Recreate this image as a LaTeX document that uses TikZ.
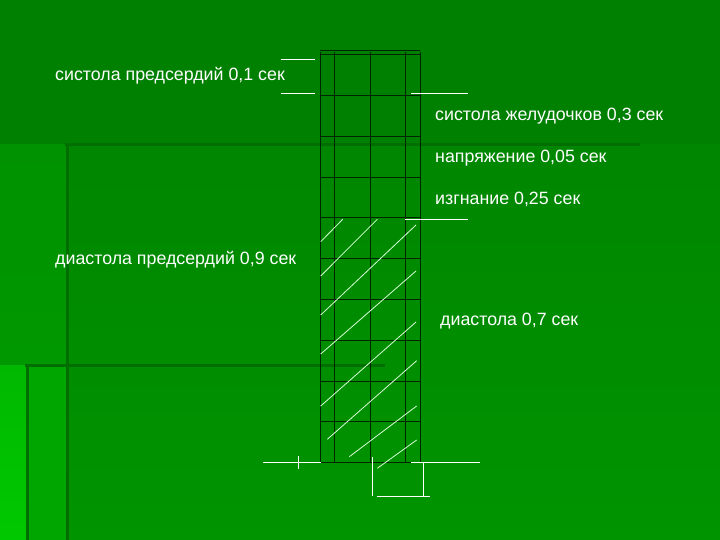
\documentclass[tikz,border=0pt]{standalone}
\usepackage{fontspec}
\setmainfont{Liberation Sans}
\begin{document}
\begin{tikzpicture}[x=1pt,y=-1pt,
  lbl/.style={anchor=base west,inner sep=0pt,text=white,font=\fontsize{17.8}{21}\selectfont},
  wline/.style={draw=white,line width=0.9pt},
  hatch/.style={draw=white!85!green,line width=0.8pt},
  gridl/.style={draw=black!85!green,line width=0.8pt},
  frameline/.style={draw=bgdark,line width=3pt}]
\definecolor{bgtop}{RGB}{0,128,0}
\definecolor{bgmid}{RGB}{0,134,0}
\definecolor{bgbot}{RGB}{0,148,0}
\definecolor{bgleft}{RGB}{0,146,0}
\definecolor{bgleftbot}{RGB}{0,166,0}
\definecolor{bgstrip}{RGB}{0,200,0}
\definecolor{bgdark}{RGB}{0,110,0}
\useasboundingbox (0,0) rectangle (720,540);
% background
\fill[bgtop] (0,0) rectangle (720,145);
\shade[top color=bgmid,bottom color=bgbot] (0,145) rectangle (720,540);
\shade[top color=bgleft,bottom color=bgleft!70!bgleftbot] (0,145) rectangle (67,365);
\fill[bgleftbot] (27,365) rectangle (67,540);
\shade[top color=bgstrip!92!black,bottom color=bgstrip] (0,365) rectangle (27,540);
\draw[frameline] (65,145) -- (640,145);
\draw[frameline] (67,145) -- (67,540);
\draw[frameline] (25,365) -- (385,365);
\draw[frameline] (27,365) -- (27,540);
% column grid
\foreach \gx in {320,334,370,405,420} \draw[gridl] (\gx,52) -- (\gx,462);
\foreach \gy in {54,95,136,177,217,258,299,340,381,421,462} \draw[gridl] (320,\gy) -- (420,\gy);
\draw[gridl] (320,50) -- (420,50);
% hatching
\draw[hatch] (320.7,241.7) -- (342.7,219.3);
\draw[hatch] (320.7,276) -- (377.3,219.3);
\draw[hatch] (320.7,315) -- (416,225);
\draw[hatch] (320.7,354) -- (416,271);
\draw[hatch] (320.7,406) -- (416,322);
\draw[hatch] (327.3,439.3) -- (416.7,360.7);
\draw[hatch] (349.3,456.7) -- (416.7,406);
\draw[hatch] (377.3,468.3) -- (416.7,440);
% white marker lines
\draw[wline] (281,59) -- (315,59);
\draw[wline] (281,93) -- (315,93);
\draw[wline] (411,93) -- (468,93);
\draw[wline] (405,219) -- (468,219);
\draw[wline] (263,462) -- (321,462);
\draw[wline] (298,456) -- (298,469);
\draw[wline] (411,462) -- (480,462);
\draw[wline] (372,457) -- (372,496);
\draw[wline] (423,462) -- (423,496);
\draw[wline] (377,496) -- (430,496);
% labels
\node[lbl] (sp) at (55,81) {систола предсердий 0,1 сек};
\node[lbl] (sz) at (435,121) {систола желудочков 0,3 сек};
\node[lbl] (np) at (435,163) {напряжение 0,05 сек};
\node[lbl] (iz) at (435,205) {изгнание 0,25 сек};
\node[lbl] (dp) at (55,264) {диастола предсердий 0,9 сек};
\node[lbl] (dz) at (440,325) {диастола 0,7 сек};
\end{tikzpicture}
\end{document}
